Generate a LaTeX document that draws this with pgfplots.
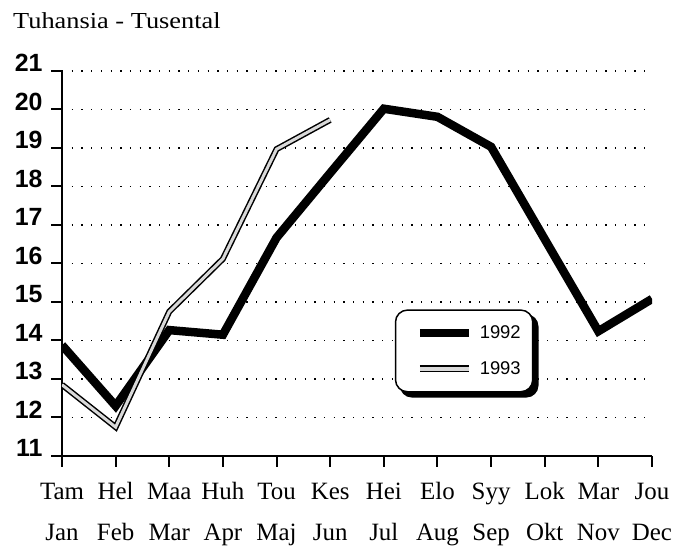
\documentclass[border=0pt]{standalone}
\usepackage{pgfplots}
\pgfplotsset{compat=1.18}
\usepackage{fontspec}
\setmainfont{Liberation Serif}
\setsansfont{Liberation Sans}
\usepackage{graphicx}
\usetikzlibrary{backgrounds}
\newcommand{\TL}[2]{\rule{0pt}{18bp}#1\\#2}
\begin{document}
\begin{tikzpicture}
\useasboundingbox (0,0) rectangle (691bp,546bp);
\node[anchor=base west, inner sep=0, font=\fontsize{23}{23}\selectfont] at (13bp,517bp) {\scalebox{1.15}[1]{Tuhansia - Tusental}};
\begin{axis}[
  at={(62bp,90bp)}, anchor=south west,
  scale only axis, width=590bp, height=385bp,
  xmin=0, xmax=11, ymin=11, ymax=21,
  axis lines=left,
  axis line style={line width=2.5bp, -},
  xtick={0,...,11}, ytick={11,...,21},
  xticklabels={{\TL{Tam}{Jan}},{\TL{Hel}{Feb}},{\TL{Maa}{Mar}},{\TL{Huh}{Apr}},{\TL{Tou}{Maj}},{\TL{Kes}{Jun}},{\TL{Hei}{Jul}},{\TL{Elo}{Aug}},{\TL{Syy}{Sep}},{\TL{Lok}{Okt}},{\TL{Mar}{Nov}},{\TL{Jou}{Dec}}},
  xticklabel style={align=center, font=\fontsize{25}{41}\selectfont, yshift=-11bp},
  yticklabel style={font=\sffamily\bfseries\fontsize{25}{25}\selectfont, yshift=8bp, xshift=-5bp},
  /pgf/number format/assume math mode=true,
  tick align=outside, major tick length=11bp,
  tick style={line width=2bp, black},
  ymajorgrids,
  grid style={black, line width=1.3bp, dash pattern=on 1.3bp off 8.4bp},
  legend style={name=leg, at={(0.564,0.381)}, anchor=north west, rounded corners=12bp,
    line width=1.5bp, draw=black, fill=white,
    font=\sffamily\fontsize{18.5}{18.5}\selectfont,
    inner xsep=10bp, inner ysep=14bp, row sep=17bp,
    /tikz/every odd column/.append style={column sep=5bp}},
  legend cell align=left,
]
\addplot[black, line width=8.5bp, legend image code/.code={\path (0bp,0bp); \draw[black, line width=8bp, rounded corners=0pt] (10bp,0bp) -- (59bp,0bp);}] coordinates {
(0,13.88) (1,12.3) (2,14.27) (3,14.15) (4,16.67) (5,18.35) (6,20.02) (7,19.81) (8,19.03) (9,16.63) (10,14.24) (11,15.08)};
\addlegendentry{1992}
\addplot[black, line width=1.5bp, double=gray!30, double distance=3bp, legend image code/.code={\path (0bp,0bp); \draw[black, line width=1.5bp, double=gray!30, double distance=4bp, rounded corners=0pt] (10bp,0bp) -- (59bp,0bp);}] coordinates {
(0,12.85) (1,11.75) (2,14.75) (3,16.12) (4,18.97) (5,19.73)};
\addlegendentry{1993}
\end{axis}
\begin{scope}[on background layer]
\fill[black, rounded corners=12bp] ([xshift=5bp,yshift=-5bp]leg.south west) rectangle ([xshift=5bp,yshift=-5bp]leg.north east);
\end{scope}
\end{tikzpicture}
\end{document}
